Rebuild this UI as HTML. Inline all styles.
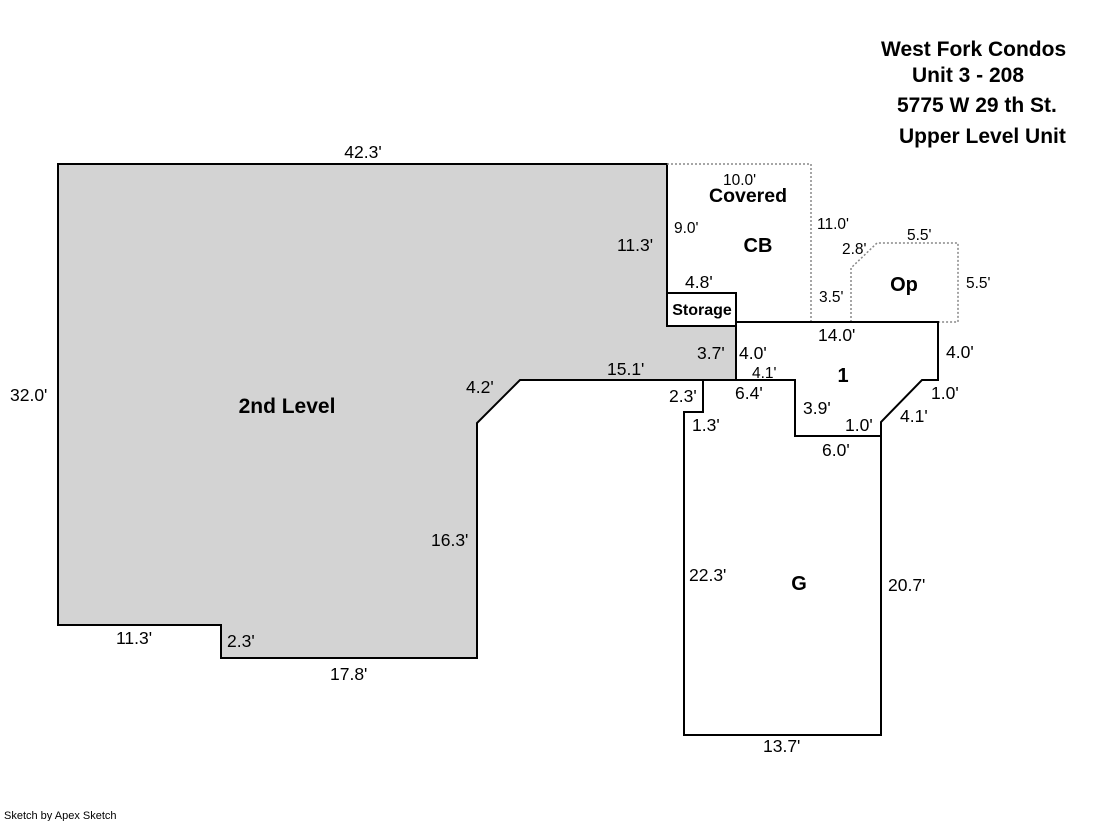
<!DOCTYPE html>
<html><head><style>body{margin:0;background:#fff}svg{display:block}text{font-family:"Liberation Sans",Arial,sans-serif}</style></head>
<body>
<svg width="1119" height="821" xmlns="http://www.w3.org/2000/svg">
<rect width="1119" height="821" fill="#fff"/>
<polygon points="58,164 667,164 667,326 736,326 736,380 520,380 477,423 477,658 221,658 221,625 58,625" fill="#d3d3d3" stroke="#000" stroke-width="2"/>
<polyline points="667,164 811,164 811,322" fill="none" stroke="#888" stroke-width="1.5" stroke-dasharray="2,2"/>
<polyline points="851,322 851,268 877,243 958,243 958,322 938,322" fill="none" stroke="#888" stroke-width="1.5" stroke-dasharray="2,2"/>
<rect x="667" y="293" width="69" height="33" fill="#fff" stroke="#000" stroke-width="2"/>
<polygon points="736,322 938,322 938,380 922,380 881,422 881,436 795,436 795,380 736,380" fill="#fff" stroke="#000" stroke-width="2"/>
<polygon points="703,380 795,380 795,436 881,436 881,735 684,735 684,412 703,412" fill="#fff" stroke="#000" stroke-width="2"/>
<g font-size="17.5" fill="#000">
<text x="363" y="158" text-anchor="middle">42.3'</text>
<text x="10" y="401">32.0'</text>
<text x="617" y="251">11.3'</text>
<text x="685" y="288">4.8'</text>
<text x="697" y="359">3.7'</text>
<text x="739" y="359">4.0'</text>
<text x="607" y="375">15.1'</text>
<text x="466" y="393">4.2'</text>
<text x="669" y="402">2.3'</text>
<text x="735" y="399">6.4'</text>
<text x="692" y="431">1.3'</text>
<text x="803" y="414">3.9'</text>
<text x="845" y="431">1.0'</text>
<text x="822" y="456">6.0'</text>
<text x="818" y="341">14.0'</text>
<text x="946" y="358">4.0'</text>
<text x="931" y="399">1.0'</text>
<text x="900" y="422">4.1'</text>
<text x="431" y="546">16.3'</text>
<text x="689" y="581">22.3'</text>
<text x="888" y="591">20.7'</text>
<text x="763" y="752">13.7'</text>
<text x="116" y="644">11.3'</text>
<text x="227" y="647">2.3'</text>
<text x="330" y="680">17.8'</text>
</g>
<g font-size="15.5" fill="#000">
<text x="723" y="185">10.0'</text>
<text x="674" y="233">9.0'</text>
<text x="817" y="229">11.0'</text>
<text x="842" y="254">2.8'</text>
<text x="907" y="240">5.5'</text>
<text x="966" y="288">5.5'</text>
<text x="819" y="302">3.5'</text>
<text x="752" y="378">4.1'</text>
</g>
<g font-weight="bold" fill="#000">
<text x="287" y="413" font-size="21" text-anchor="middle">2nd Level</text>
<text x="748" y="202" font-size="19.5" text-anchor="middle">Covered</text>
<text x="758" y="252" font-size="20" text-anchor="middle">CB</text>
<text x="904" y="291" font-size="20" text-anchor="middle">Op</text>
<text x="843" y="382" font-size="20" text-anchor="middle">1</text>
<text x="799" y="590" font-size="20" text-anchor="middle">G</text>
<g font-size="21">
<text x="881" y="56">West Fork Condos</text>
<text x="912" y="82">Unit 3 - 208</text>
<text x="897" y="112">5775 W 29 th St.</text>
<text x="899" y="143">Upper Level Unit</text>
</g>
<text x="702" y="315" font-size="16" text-anchor="middle">Storage</text>
</g>
<text x="4" y="819" font-size="11">Sketch by Apex Sketch</text>
</svg>
</body></html>
